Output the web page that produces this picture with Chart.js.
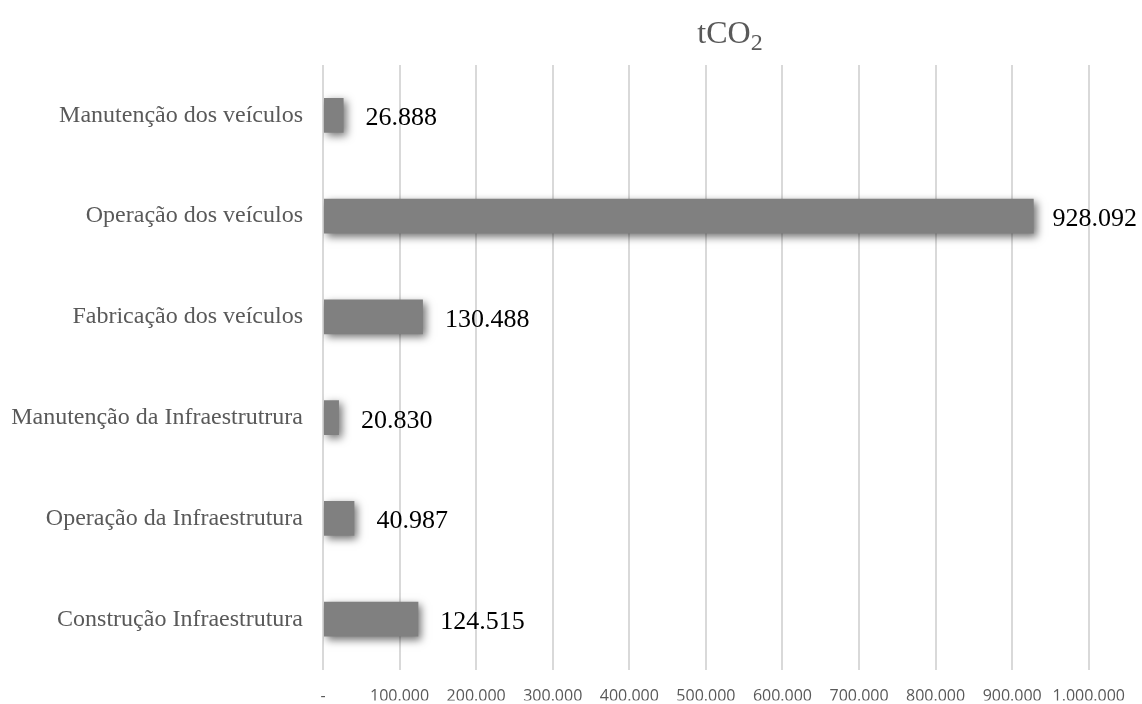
<!DOCTYPE html>
<html>
<head>
<meta charset="utf-8">
<script src="https://cdn.jsdelivr.net/npm/chart.js@4/dist/chart.umd.min.js"></script>
<style>
  html, body { margin: 0; padding: 0; background: #ffffff; }
  #wrap { width: 1142px; height: 704px; position: relative; }
</style>
</head>
<body>
<div id="wrap"><canvas id="chart" width="1142" height="704"></canvas></div>
<script>
// Emission sources (top to bottom) and their totals in tCO2
const categories = [
  'Manutenção dos veículos',
  'Operação dos veículos',
  'Fabricação dos veículos',
  'Manutenção da Infraestrutrura',
  'Operação da Infraestrutura',
  'Construção Infraestrutura'
];
const emissions = [26888, 928092, 130488, 20830, 40987, 124515];

// Axis range and step
const axisMin = 0;
const axisMax = 1000000;
const axisStep = 100000;

// Thousands separator in Brazilian style: 1.000.000, zero shown as "-"
function formatBR(v) {
  if (v === 0) return '-';
  return String(Math.round(v)).replace(/\B(?=(\d{3})+(?!\d))/g, '.');
}

const SERIF = '"Liberation Serif", "Times New Roman", serif';

// Draws bars with a soft drop shadow and writes the value next to each bar
const barDecor = {
  id: 'barDecor',
  beforeDatasetsDraw(chart) {
    const ctx = chart.ctx;
    ctx.save();
    ctx.shadowColor = 'rgba(0,0,0,0.55)';
    ctx.shadowBlur = 8;
    ctx.shadowOffsetX = 3;
    ctx.shadowOffsetY = 3;
  },
  afterDatasetsDraw(chart) {
    const ctx = chart.ctx;
    ctx.restore();
    ctx.save();
    ctx.font = '26px ' + SERIF;
    ctx.fillStyle = '#000000';
    ctx.textAlign = 'left';
    ctx.textBaseline = 'alphabetic';
    const meta = chart.getDatasetMeta(0);
    meta.data.forEach((bar, i) => {
      const text = formatBR(chart.data.datasets[0].data[i]);
      const w = ctx.measureText(text).width;
      let x = bar.x + 22;
      const limit = chart.width - w - 5;
      if (x > limit) x = limit;
      ctx.fillText(text, x, bar.y + 10);
    });
    ctx.restore();
  }
};

// Title "tCO2" with a subscript 2
const titleSub = {
  id: 'titleSub',
  afterDraw(chart) {
    const ctx = chart.ctx;
    ctx.save();
    ctx.fillStyle = '#595959';
    ctx.textBaseline = 'alphabetic';
    const mainFont = '32px ' + SERIF;
    const subFont = '24px ' + SERIF;
    ctx.font = mainFont;
    const wMain = ctx.measureText('tCO').width;
    ctx.font = subFont;
    const wSub = ctx.measureText('2').width;
    const cx = 730;
    const x0 = cx - (wMain + wSub) / 2;
    ctx.font = mainFont;
    ctx.fillText('tCO', x0, 43);
    ctx.font = subFont;
    ctx.fillText('2', x0 + wMain, 50);
    ctx.restore();
  }
};

new Chart(document.getElementById('chart'), {
  type: 'bar',
  data: {
    labels: categories,
    datasets: [{
      data: emissions,
      backgroundColor: '#808080',
      borderWidth: 0,
      barPercentage: 0.345,
      categoryPercentage: 1.0
    }]
  },
  options: {
    indexAxis: 'y',
    responsive: false,
    animation: false,
    layout: { padding: { top: 65, right: 50, bottom: 0, left: 0 } },
    plugins: {
      legend: { display: false },
      tooltip: { enabled: false },
      title: { display: false }
    },
    scales: {
      x: {
        min: axisMin,
        max: axisMax,
        border: { display: false },
        grid: { color: '#d9d9d9', lineWidth: 2, drawTicks: false },
        ticks: {
          stepSize: axisStep,
          padding: 17,
          color: '#595959',
          font: { family: '"Open Sans", sans-serif', size: 16 },
          maxRotation: 0,
          autoSkip: false,
          callback: (v) => formatBR(v)
        },
        afterFit(scale) { scale.height = 31; }
      },
      y: {
        border: { display: false },
        grid: { display: false, drawTicks: false },
        ticks: {
          padding: 20,
          color: '#595959',
          font: { family: SERIF, size: 24 }
        },
        afterFit(scale) { scale.width = 323; }
      }
    }
  },
  plugins: [barDecor, titleSub]
});
</script>
</body>
</html>
